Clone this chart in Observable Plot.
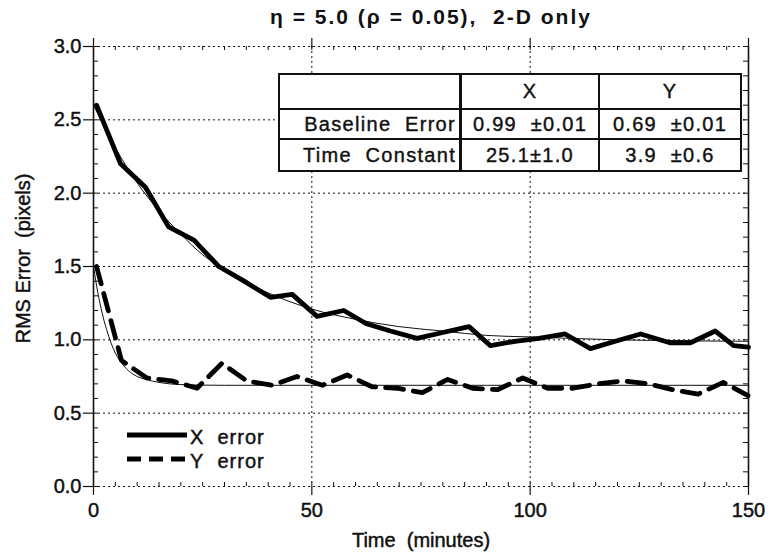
<!DOCTYPE html>
<html>
<head>
<meta charset="utf-8">
<script src="https://cdn.jsdelivr.net/npm/d3@7"></script>
<script src="https://cdn.jsdelivr.net/npm/@observablehq/plot@0.6"></script>
<style>
  body { margin: 0; background: white; }
  #wrap { position: relative; width: 769px; height: 554px; font-family: "Liberation Sans", Arial, sans-serif; color: #111; }
  #title { height: 36px; box-sizing: border-box; padding-top: 4px; padding-left: 93px; text-align: center; font-weight: bold; font-size: 21px; line-height: 25px; letter-spacing: 2px; white-space: pre; }
  #tbl { position: absolute; left: 278px; top: 73px; border-collapse: collapse; background: white; font-size: 20px; letter-spacing: 1.3px; -webkit-text-stroke: 0.4px #111; }
  #tbl td { border: 2px solid #111; padding: 0; text-align: center; white-space: pre; }
  #tbl td.lab { text-align: right; padding-right: 3px; }
  #tbl td.c1 { border-left: 3px solid #111; }
  #legend { position: absolute; left: 0; top: 0; }
</style>
</head>
<body>
<div id="wrap">
  <div id="title"></div>
  <div id="chart"></div>
</div>
<script>
// ---------------- data ----------------
const titleText = "\u03b7 = 5.0 (\u03c1 = 0.05),  2-D only";
const xLabel = "Time\u00a0\u00a0(minutes)";
const yLabel = "RMS\u00a0Error\u00a0\u00a0(pixels)";

const xTicks = [0, 50, 100, 150];
const yTicks = [0.0, 0.5, 1.0, 1.5, 2.0, 2.5, 3.0];
const xMinor = d3.range(0, 151, 5);
const yMinor = d3.range(0, 31, 1).map(d => d / 10);

// X error measurements
const xTimes = [0.7, 6.2, 11.9, 17.2, 23.0, 28.7, 34.5, 40.5, 45.5, 51.2, 57.3, 62.5, 68.0, 74.1, 80.0, 86.0, 90.9, 96.5, 102.0, 108.0, 113.8, 119.5, 125.3, 132.0, 136.7, 142.4, 146.6, 150.0];
const xErr   = [2.60, 2.20, 2.04, 1.77, 1.68, 1.50, 1.40, 1.29, 1.31, 1.16, 1.20, 1.11, 1.06, 1.01, 1.05, 1.09, 0.96, 0.99, 1.01, 1.04, 0.94, 0.99, 1.04, 0.98, 0.98, 1.06, 0.96, 0.95];

// Y error measurements
const yTimes = [0.7, 6.4, 12.2, 17.9, 23.7, 29.4, 35.1, 40.9, 46.6, 52.4, 58.1, 63.8, 69.6, 75.3, 81.1, 86.8, 92.5, 98.3, 104.0, 109.8, 115.5, 121.2, 127.0, 132.7, 138.5, 144.2, 149.9];
const yErr   = [1.50, 0.86, 0.74, 0.72, 0.67, 0.84, 0.72, 0.69, 0.75, 0.69, 0.76, 0.68, 0.67, 0.64, 0.73, 0.67, 0.66, 0.74, 0.67, 0.67, 0.70, 0.72, 0.70, 0.66, 0.63, 0.71, 0.62];

// fitted curves (thin lines)
const xFitTimes = [0, 5, 10, 15, 20, 25, 30, 35, 40, 50, 60, 70, 80, 90, 100, 120, 150];
const xFit      = [2.60, 2.31, 2.07, 1.88, 1.72, 1.58, 1.48, 1.39, 1.32, 1.21, 1.14, 1.09, 1.06, 1.03, 1.02, 1.00, 0.99];
const yFitTimes = [0, 1, 2, 3, 4, 5, 6, 8, 10, 12, 15, 20, 30, 150];
const yFit      = [1.50, 1.32, 1.18, 1.07, 0.98, 0.91, 0.86, 0.79, 0.75, 0.73, 0.71, 0.695, 0.69, 0.69];

// table
const tableHeader = ["", "X", "Y"];
const tableRows = [
  ["Baseline\u00a0\u00a0Error", "0.99\u00a0\u00a0\u00b10.01", "0.69\u00a0\u00a0\u00b10.01"],
  ["Time\u00a0\u00a0Constant", "25.1\u00b11.0", "3.9\u00a0\u00a0\u00b10.6"]
];
const seriesNames = ["X\u00a0\u00a0error", "Y\u00a0\u00a0error"];

// ---------------- build ----------------
const xData = xTimes.map((t, i) => ({t, v: xErr[i]}));
const yData = yTimes.map((t, i) => ({t, v: yErr[i]}));
const xFitData = xFitTimes.map((t, i) => ({t, v: xFit[i]}));
const yFitData = yFitTimes.map((t, i) => ({t, v: yFit[i]}));

const W = 769, H = 518, mT = 10, mB = 68, mL = 93, mR = 21;
const pw = W - mL - mR, ph = H - mT - mB;
const dotted = {stroke: "#111", strokeWidth: 1, strokeDasharray: "2,3"};

const chart = Plot.plot({
  width: W, height: H,
  marginTop: mT, marginBottom: mB, marginLeft: mL, marginRight: mR,
  style: {fontFamily: '"Liberation Sans", Arial, sans-serif', fontSize: "20px", color: "#111", background: "white", overflow: "visible"},
  x: {domain: [0, 150]},
  y: {domain: [0, 3]},
  marks: [
    Plot.gridX([50, 100], {...dotted, strokeOpacity: 1}),
    Plot.gridY([0.5, 1, 1.5, 2, 2.5], {...dotted, strokeOpacity: 1}),
    Plot.ruleY([0, 3], dotted),
    Plot.ruleX([0, 150], {stroke: "#111", strokeWidth: 1.6}),
    // minor ticks, inward
    Plot.tickX(xMinor, {x: d => d, insetTop: ph - 4, stroke: "#111", strokeWidth: 1}),
    Plot.tickX(xMinor, {x: d => d, insetBottom: ph - 4, stroke: "#111", strokeWidth: 1}),
    Plot.tickY(yMinor, {y: d => d, insetRight: pw - 5, stroke: "#111", strokeWidth: 1}),
    Plot.tickY(yMinor, {y: d => d, insetLeft: pw - 5, stroke: "#111", strokeWidth: 1}),
    // axes
    Plot.axisX(xTicks, {anchor: "bottom", tickSize: 9, tickPadding: 7, strokeWidth: 1.2, label: xLabel, labelAnchor: "center", labelOffset: 60, labelArrow: "none", fontSize: 20, letterSpacing: 1}),
    Plot.axisX(xTicks, {anchor: "top", tickSize: 9, tickFormat: () => "", label: null, strokeWidth: 1.2}),
    Plot.axisY(yTicks, {anchor: "left", tickSize: 10, tickPadding: 2, strokeWidth: 1.2, tickFormat: d3.format(".1f"), label: null, fontSize: 20, letterSpacing: 1}),
    Plot.text([yLabel], {frameAnchor: "left", textAnchor: "middle", rotate: -90, dx: -70, dy: -8, fontSize: 20, letterSpacing: 1.6, fill: "#111"}),
    // fits
    Plot.line(xFitData, {x: "t", y: "v", stroke: "#111", strokeWidth: 1, curve: "monotone-x"}),
    Plot.line(yFitData, {x: "t", y: "v", stroke: "#111", strokeWidth: 1, curve: "monotone-x"}),
    // data
    Plot.line(xData, {x: "t", y: "v", stroke: "#000", strokeWidth: 4.8, strokeLinejoin: "round"}),
    Plot.line(yData, {x: "t", y: "v", stroke: "#000", strokeWidth: 4.8, strokeLinejoin: "round", strokeDasharray: "18,10"})
  ]
});
d3.select(chart).selectAll("text").attr("stroke", "#111").attr("stroke-width", 0.45);
document.getElementById("chart").appendChild(chart);
document.getElementById("title").textContent = titleText;

// table overlay
const tbl = document.createElement("table");
tbl.id = "tbl";
const widths = [176, 136, 140];
const heights = [35, 30, 32];
[tableHeader, ...tableRows].forEach((row, ri) => {
  const tr = document.createElement("tr");
  tr.style.height = heights[ri] + "px";
  row.forEach((cell, ci) => {
    const td = document.createElement("td");
    td.textContent = cell;
    td.style.width = widths[ci] + "px";
    if (ci === 0) td.className = "lab";
    if (ci === 1) td.className = "c1";
    tr.appendChild(td);
  });
  tbl.appendChild(tr);
});
document.getElementById("wrap").appendChild(tbl);

// legend overlay
const ns = "http://www.w3.org/2000/svg";
const lg = document.createElementNS(ns, "svg");
lg.setAttribute("id", "legend");
lg.setAttribute("width", W); lg.setAttribute("height", 554);
lg.style.pointerEvents = "none";
const legRows = [{y: 435, dash: null}, {y: 459, dash: "14,8"}];
legRows.forEach((r, i) => {
  const ln = document.createElementNS(ns, "line");
  ln.setAttribute("x1", 127); ln.setAttribute("x2", 187);
  ln.setAttribute("y1", r.y); ln.setAttribute("y2", r.y);
  ln.setAttribute("stroke", "#000"); ln.setAttribute("stroke-width", 4.8);
  if (r.dash) ln.setAttribute("stroke-dasharray", r.dash);
  lg.appendChild(ln);
  const tx = document.createElementNS(ns, "text");
  tx.setAttribute("x", 190); tx.setAttribute("y", r.y + 9);
  tx.setAttribute("font-size", 20);
  tx.setAttribute("letter-spacing", 1);
  tx.setAttribute("fill", "#111");
  tx.setAttribute("stroke", "#111");
  tx.setAttribute("stroke-width", 0.45);
  tx.setAttribute("font-family", '"Liberation Sans", Arial, sans-serif');
  tx.textContent = seriesNames[i];
  lg.appendChild(tx);
});
document.getElementById("wrap").appendChild(lg);
</script>
</body>
</html>
